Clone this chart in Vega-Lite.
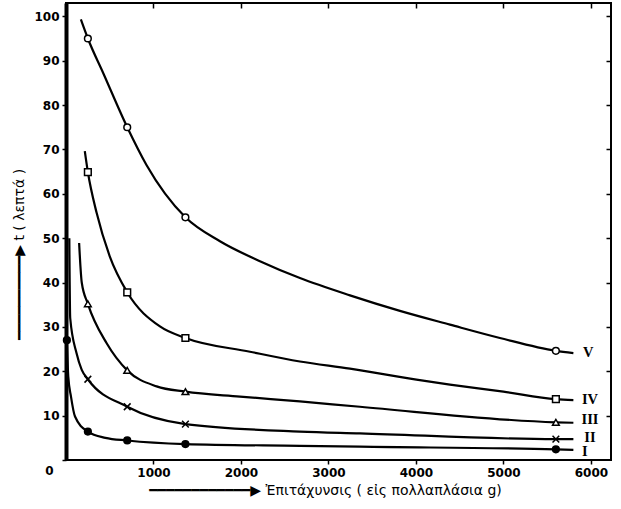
{
  "$schema": "https://vega.github.io/schema/vega-lite/v6.json",
  "autosize": "none",
  "width": 545,
  "height": 457,
  "padding": {"left": 66, "top": 3, "right": 10, "bottom": 49},
  "background": "white",
  "config": {
    "view": {"stroke": "black", "strokeWidth": 2},
    "axis": {
      "labelFont": "DejaVu Sans",
      "labelFontWeight": "bold",
      "labelFontSize": 12,
      "labelColor": "black",
      "titleFont": "DejaVu Sans",
      "titleFontWeight": "bold",
      "titleFontSize": 12,
      "titleColor": "black",
      "tickColor": "black",
      "domainColor": "black",
      "grid": false
    }
  },
  "datasets": {
    "curves": [
      {"curve": "V", "x": 170, "t": 99.3},
      {"curve": "V", "x": 250, "t": 95},
      {"curve": "V", "x": 430, "t": 87},
      {"curve": "V", "x": 700, "t": 75},
      {"curve": "V", "x": 920, "t": 66.5},
      {"curve": "V", "x": 1365, "t": 54.7},
      {"curve": "V", "x": 1760, "t": 49.3},
      {"curve": "V", "x": 2217, "t": 44.8},
      {"curve": "V", "x": 2674, "t": 41.0},
      {"curve": "V", "x": 3246, "t": 37.1},
      {"curve": "V", "x": 3817, "t": 33.6},
      {"curve": "V", "x": 4389, "t": 30.5},
      {"curve": "V", "x": 4960, "t": 27.5},
      {"curve": "V", "x": 5600, "t": 24.6},
      {"curve": "V", "x": 5800, "t": 24.1},
      {"curve": "IV", "x": 215, "t": 69.6},
      {"curve": "IV", "x": 250, "t": 64.9},
      {"curve": "IV", "x": 350, "t": 55.7},
      {"curve": "IV", "x": 500, "t": 45.9},
      {"curve": "IV", "x": 700, "t": 37.8},
      {"curve": "IV", "x": 1074, "t": 30.1},
      {"curve": "IV", "x": 1365, "t": 27.5},
      {"curve": "IV", "x": 2103, "t": 24.4},
      {"curve": "IV", "x": 2674, "t": 22.2},
      {"curve": "IV", "x": 3246, "t": 20.6},
      {"curve": "IV", "x": 4006, "t": 18.1},
      {"curve": "IV", "x": 4389, "t": 17.0},
      {"curve": "IV", "x": 5000, "t": 15.4},
      {"curve": "IV", "x": 5600, "t": 13.7},
      {"curve": "IV", "x": 5800, "t": 13.5},
      {"curve": "III", "x": 150, "t": 48.9},
      {"curve": "III", "x": 180, "t": 40},
      {"curve": "III", "x": 250, "t": 35.2},
      {"curve": "III", "x": 465, "t": 26.3},
      {"curve": "III", "x": 700, "t": 20.2},
      {"curve": "III", "x": 1036, "t": 16.6},
      {"curve": "III", "x": 1365, "t": 15.4},
      {"curve": "III", "x": 1989, "t": 14.3},
      {"curve": "III", "x": 2674, "t": 13.2},
      {"curve": "III", "x": 3360, "t": 12.0},
      {"curve": "III", "x": 5600, "t": 8.5},
      {"curve": "III", "x": 5800, "t": 8.4},
      {"curve": "II", "x": 38, "t": 50},
      {"curve": "II", "x": 48, "t": 32},
      {"curve": "II", "x": 120, "t": 24.1},
      {"curve": "II", "x": 180, "t": 20.3},
      {"curve": "II", "x": 250, "t": 18.2},
      {"curve": "II", "x": 700, "t": 12.0},
      {"curve": "II", "x": 1365, "t": 8.1},
      {"curve": "II", "x": 2674, "t": 6.4},
      {"curve": "II", "x": 3360, "t": 6.0},
      {"curve": "II", "x": 5600, "t": 4.7},
      {"curve": "II", "x": 5800, "t": 4.7},
      {"curve": "I", "x": 10, "t": 27},
      {"curve": "I", "x": 26, "t": 18.8},
      {"curve": "I", "x": 57, "t": 14.3},
      {"curve": "I", "x": 103, "t": 9.8},
      {"curve": "I", "x": 250, "t": 6.4},
      {"curve": "I", "x": 450, "t": 5.0},
      {"curve": "I", "x": 700, "t": 4.4},
      {"curve": "I", "x": 1365, "t": 3.6},
      {"curve": "I", "x": 2674, "t": 3.2},
      {"curve": "I", "x": 3360, "t": 3.0},
      {"curve": "I", "x": 5600, "t": 2.4},
      {"curve": "I", "x": 5800, "t": 2.3}
    ],
    "markers": [
      {"curve": "V", "x": 250, "t": 95},
      {"curve": "V", "x": 700, "t": 75},
      {"curve": "V", "x": 1365, "t": 54.7},
      {"curve": "V", "x": 5600, "t": 24.6},
      {"curve": "IV", "x": 250, "t": 64.9},
      {"curve": "IV", "x": 700, "t": 37.8},
      {"curve": "IV", "x": 1365, "t": 27.5},
      {"curve": "IV", "x": 5600, "t": 13.7},
      {"curve": "III", "x": 250, "t": 35.2},
      {"curve": "III", "x": 700, "t": 20.2},
      {"curve": "III", "x": 1365, "t": 15.4},
      {"curve": "III", "x": 5600, "t": 8.5},
      {"curve": "II", "x": 250, "t": 18.2},
      {"curve": "II", "x": 700, "t": 12.0},
      {"curve": "II", "x": 1365, "t": 8.1},
      {"curve": "II", "x": 5600, "t": 4.7},
      {"curve": "I", "x": 10, "t": 27},
      {"curve": "I", "x": 250, "t": 6.4},
      {"curve": "I", "x": 700, "t": 4.4},
      {"curve": "I", "x": 1365, "t": 3.6},
      {"curve": "I", "x": 5600, "t": 2.4}
    ],
    "labels": [
      {"label": "V", "x": 5970, "t": 24.1},
      {"label": "IV", "x": 5990, "t": 13.5},
      {"label": "III", "x": 5990, "t": 9.1},
      {"label": "II", "x": 5990, "t": 5.0},
      {"label": "I", "x": 5930, "t": 1.8}
    ]
  },
  "resolve": {"axis": {"x": "independent", "y": "independent"}},
  "layer": [
    {
      "data": {"name": "curves"},
      "mark": {"type": "line", "interpolate": "monotone", "color": "black", "strokeWidth": 2.2},
      "encoding": {
        "x": {
          "field": "x", "type": "quantitative",
          "scale": {"domain": [0, 6230], "nice": false, "zero": false},
          "axis": {
            "orient": "bottom",
            "values": [1000, 2000, 3000, 4000, 5000, 6000],
            "format": "d",
            "domain": false,
            "tickSize": 4,
            "tickWidth": 1.5,
            "labelPadding": 3,
            "title": "━━━━━━━━━━━━▶  Ἐπιτάχυνσις ( εἰς πολλαπλάσια g)",
            "titleX": 259,
            "titlePadding": 5,
            "titleFontWeight": "normal",
            "titleFontSize": 14
          }
        },
        "y": {
          "field": "t", "type": "quantitative",
          "scale": {"domain": [0, 103], "nice": false, "zero": false},
          "axis": {
            "orient": "left",
            "values": [0, 10, 20, 30, 40, 50, 60, 70, 80, 90, 100],
            "domainWidth": 4,
            "tickSize": 4,
            "tickWidth": 1.5,
            "labelPadding": {"condition": {"test": "datum.value == 0", "value": 9}, "value": 3},
            "labelOffset": {"condition": {"test": "datum.value == 0", "value": 10}, "value": 0},
            "title": "━━━━━━━━━━▶  t ( λεπτά )",
            "titleY": 251,
            "titlePadding": 7,
            "titleFontWeight": "normal",
            "titleFontSize": 14
          }
        },
        "detail": {"field": "curve", "type": "nominal"}
      }
    },
    {
      "data": {"name": "markers"},
      "mark": {"type": "point", "filled": true, "stroke": "black", "strokeWidth": 1.5, "size": 45, "opacity": 1},
      "encoding": {
        "x": {
          "field": "x", "type": "quantitative",
          "axis": {
            "orient": "top",
            "values": [0, 1000, 2000, 3000, 4000, 5000, 6000],
            "labels": false,
            "domain": false,
            "tickSize": -5,
            "tickWidth": 1.5,
            "title": null
          }
        },
        "y": {
          "field": "t", "type": "quantitative",
          "axis": {
            "orient": "right",
            "values": [10, 20, 30, 40, 50, 60, 70, 80, 90, 100],
            "labels": false,
            "domain": false,
            "tickSize": -5,
            "tickWidth": 1.5,
            "title": null
          }
        },
        "shape": {
          "field": "curve", "type": "nominal",
          "scale": {"domain": ["V", "IV", "III", "II", "I"], "range": ["circle", "square", "triangle-up", "M-1,-1L1,1M-1,1L1,-1", "circle"]},
          "legend": null
        },
        "fill": {
          "field": "curve", "type": "nominal",
          "scale": {"domain": ["V", "IV", "III", "II", "I"], "range": ["white", "white", "white", "white", "black"]},
          "legend": null
        }
      }
    },
    {
      "data": {"name": "labels"},
      "mark": {"type": "text", "font": "Liberation Serif", "fontWeight": "bold", "fontSize": 14.5, "color": "black", "align": "center", "baseline": "middle"},
      "encoding": {
        "x": {"field": "x", "type": "quantitative", "axis": null},
        "y": {"field": "t", "type": "quantitative", "axis": null},
        "text": {"field": "label"}
      }
    }
  ]
}
